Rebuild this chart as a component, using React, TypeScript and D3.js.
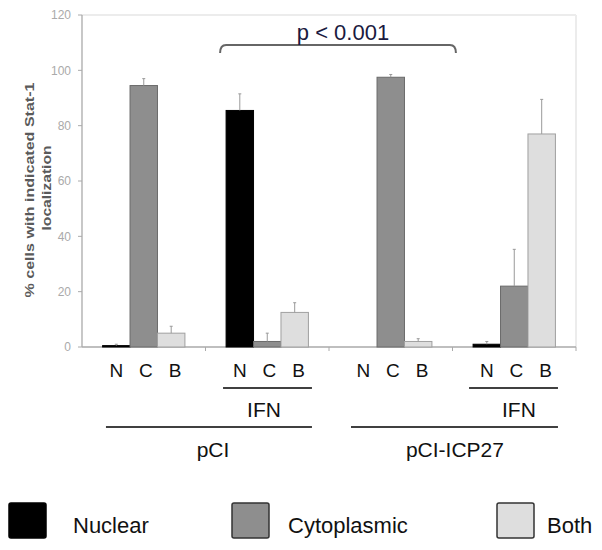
import React from "react";
import * as d3 from "d3";

const groups = ["pCI", "pCI IFN", "pCI-ICP27", "pCI-ICP27 IFN"];
const series = ["N", "C", "B"];
const seriesNames = ["Nuclear", "Cytoplasmic", "Both"];
const nuclear = [0.5, 85.5, 0, 1];
const nuclearErr = [0.5, 6, 0, 1];
const cytoplasmic = [94.5, 2, 97.5, 22];
const cytoplasmicErr = [2.5, 3, 1, 13.3];
const both = [5, 12.5, 2, 77];
const bothErr = [2.5, 3.5, 1, 12.5];
const yTicks = [0, 20, 40, 60, 80, 100, 120];
const ifnLabel = "IFN";
const plasmidLabels = ["pCI", "pCI-ICP27"];

const fills = ["#000000", "#8e8e8e", "#dedede"];
const strokes = ["#000000", "#6a6a6a", "#a0a0a0"];
const font = "Liberation Sans, Arial, sans-serif";

function T({ x, y, size, anchor = "start", fill = "#111", children }: any) {
  return (
    <text x={x} y={y} textAnchor={anchor} fontFamily={font} fontSize={size} fill={fill}>
      {children}
    </text>
  );
}

export default function App() {
  const W = 602, H = 550;
  const left = 82, right = 576, top = 15, bottom = 347;
  const y = d3.scaleLinear().domain([0, 120]).range([bottom, top]);
  const x0 = d3.scaleBand().domain(groups).range([left, right]).paddingInner(0).paddingOuter(0);
  const x1 = d3.scaleBand().domain(series).range([0, x0.bandwidth()]).paddingOuter(0.75).paddingInner(0);
  // continuous group-index scale for the annotation layout
  const xg = d3.scaleLinear().domain([0, groups.length]).range([left, right]);
  const vals = [nuclear, cytoplasmic, both];
  const errs = [nuclearErr, cytoplasmicErr, bothErr];

  const gx = (i: number) => x0(groups[i])!;
  const bracketL = gx(1) + x1("N")! - 6;
  const bracketR = gx(2) + x1("B")! + x1.bandwidth() + 24;
  const bY = 45;

  const ifnSpans = [[1.142, 1.862, 1.474], [3.134, 3.854, 3.538]];
  const plasmidSpans = [[0.194, 1.862, 1.061], [2.178, 3.854, 3.02]];

  return (
    <svg width={W} height={H} style={{ position: "absolute", left: 0, top: 0, background: "#fff" }}>
      {/* plot frame */}
      <line x1={left} x2={right} y1={top} y2={top} stroke="#ececec" strokeWidth={2} />
      <line x1={right} x2={right} y1={top} y2={bottom} stroke="#ececec" strokeWidth={2} />
      <line x1={left} x2={left} y1={top} y2={bottom} stroke="#aaa" strokeWidth={1.3} />
      <line x1={left} x2={right} y1={bottom} y2={bottom} stroke="#aaa" strokeWidth={1.3} />
      {yTicks.map((t) => (
        <g key={t}>
          <line x1={left - 4} x2={left} y1={y(t)} y2={y(t)} stroke="#aaa" />
          <text x={71} y={y(t)} dy="0.35em" textAnchor="end" fontFamily={font} fontSize={12} fill="#aaa">{t}</text>
        </g>
      ))}
      {groups.map((g, i) => (
        <line key={g} x1={gx(i) + x0.bandwidth()} x2={gx(i) + x0.bandwidth()} y1={bottom} y2={bottom + 4} stroke="#aaa" />
      ))}
      <text transform={`translate(34,190) rotate(-90)`} textAnchor="middle" fontFamily={font} fontSize={13} fontWeight="bold" fill="#5a5a5a">
        <tspan x={0} dy={0} textLength={215} lengthAdjust="spacingAndGlyphs">% cells with indicated Stat-1</tspan>
      </text>
      <text transform={`translate(51,188) rotate(-90)`} textAnchor="middle" fontFamily={font} fontSize={13} fontWeight="bold" fill="#5a5a5a">
        <tspan x={0} dy={0} textLength={85} lengthAdjust="spacingAndGlyphs">localization</tspan>
      </text>
      {/* bars */}
      {groups.map((g, i) =>
        series.map((s, j) => {
          const v = vals[j][i];
          const e = errs[j][i];
          const bx = gx(i) + x1(s)!;
          const cx = bx + x1.bandwidth() / 2;
          return (
            <g key={g + s}>
              {v > 0 && (
                <rect x={bx} y={y(v)} width={x1.bandwidth()} height={bottom - y(v)} fill={fills[j]} stroke={strokes[j]} strokeWidth={1} />
              )}
              {e > 0 && (
                <g stroke="#999" strokeWidth={1}>
                  <line x1={cx} x2={cx} y1={y(v)} y2={y(v + e)} />
                  <line x1={cx - 1.5} x2={cx + 1.5} y1={y(v + e)} y2={y(v + e)} />
                </g>
              )}
              <T x={cx + (j - 1) * 2 + 2} y={377} size={19} anchor="middle">{s}</T>
            </g>
          );
        })
      )}
      {/* bracket */}
      <path d={`M${bracketL},${bY + 8} Q${bracketL},${bY} ${bracketL + 6},${bY} L${bracketR - 6},${bY} Q${bracketR},${bY} ${bracketR},${bY + 8}`} fill="none" stroke="#666" strokeWidth={2} />
      <T x={343} y={40} size={22} anchor="middle" fill="#1a1a40">p &lt; 0.001</T>
      {/* group labels */}
      {ifnSpans.map(([a, b, c], k) => (
        <g key={"ifn" + k}>
          <line x1={xg(a)} x2={xg(b)} y1={388} y2={388} stroke="#000" strokeWidth={1.6} />
          <T x={xg(c)} y={417} size={21} anchor="middle">{ifnLabel}</T>
        </g>
      ))}
      {plasmidSpans.map(([a, b, c], k) => (
        <g key={"pl" + k}>
          <line x1={xg(a)} x2={xg(b)} y1={427} y2={427} stroke="#000" strokeWidth={1.6} />
          <T x={xg(c)} y={457} size={21} anchor="middle">{plasmidLabels[k]}</T>
        </g>
      ))}
      {/* legend */}
      {seriesNames.map((n, j) => {
        const lx = [9, 232, 497][j];
        const tx = [73, 288, 547][j];
        return (
          <g key={n}>
            <rect x={lx} y={503} width={37} height={35} rx={2} fill={fills[j]} stroke={j === 0 ? "#000" : "#333"} strokeWidth={1.5} />
            <T x={tx} y={533} size={22}>{n}</T>
          </g>
        );
      })}
    </svg>
  );
}
